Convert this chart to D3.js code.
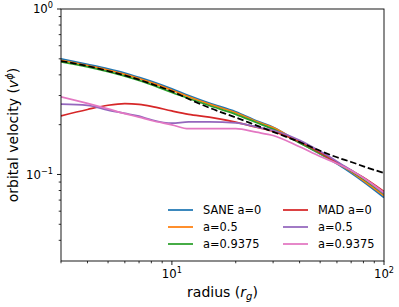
<!DOCTYPE html>
<html>
<head>
<meta charset="utf-8">
<script src="https://cdn.jsdelivr.net/npm/d3@7.9.0/dist/d3.min.js"></script>
<style>
  body { margin: 0; background: #fff; }
  svg { display: block; font-family: "DejaVu Sans", sans-serif; }
</style>
</head>
<body>
<svg id="chart" width="399" height="307"></svg>
<script>
const radius = [3, 4, 5, 6, 7, 8, 10, 12, 15, 20, 25, 30, 40, 50, 60, 70, 80, 100];

const saneA0     = [0.500, 0.463, 0.435, 0.410, 0.386, 0.365, 0.329, 0.300, 0.270, 0.239, 0.211, 0.193, 0.156, 0.133, 0.116, 0.102, 0.0904, 0.0726];
const saneA05    = [0.489, 0.455, 0.428, 0.403, 0.380, 0.359, 0.323, 0.295, 0.266, 0.236, 0.209, 0.192, 0.156, 0.134, 0.117, 0.104, 0.092, 0.0745];
const saneA09375 = [0.479, 0.447, 0.418, 0.393, 0.370, 0.349, 0.313, 0.288, 0.261, 0.231, 0.206, 0.188, 0.155, 0.134, 0.118, 0.105, 0.094, 0.0762];
const madA0      = [0.226, 0.247, 0.262, 0.268, 0.265, 0.258, 0.242, 0.231, 0.222, 0.207, 0.193, 0.182, 0.158, 0.136, 0.118, 0.106, 0.096, 0.0789];
const madA05     = [0.266, 0.262, 0.245, 0.234, 0.225, 0.214, 0.204, 0.208, 0.208, 0.205, 0.194, 0.185, 0.161, 0.138, 0.120, 0.106, 0.0953, 0.0767];
const madA09375  = [0.295, 0.269, 0.249, 0.233, 0.222, 0.212, 0.1995, 0.189, 0.189, 0.189, 0.180, 0.172, 0.147, 0.1285, 0.1166, 0.1057, 0.0953, 0.0778];
const keplerian  = [0.485, 0.452, 0.422, 0.397, 0.374, 0.353, 0.318, 0.286, 0.253, 0.221, 0.198, 0.181, 0.157, 0.139, 0.127, 0.119, 0.112, 0.102];

const labels = ['SANE a=0', 'a=0.5', 'a=0.9375', 'MAD a=0', 'a=0.5', 'a=0.9375'];
const colors = ['#1f77b4', '#ff7f0e', '#2ca02c', '#d62728', '#9467bd', '#e377c2'];
const series = [saneA0, saneA05, saneA09375, madA0, madA05, madA09375];

const xMajor = [10, 100];
const xMinor = [3, 4, 5, 6, 7, 8, 9, 20, 30, 40, 50, 60, 70, 80, 90];
const yMajor = [1, 0.1];
const yMinor = [0.04, 0.05, 0.06, 0.07, 0.08, 0.09, 0.2, 0.3, 0.4, 0.5, 0.6, 0.7, 0.8, 0.9];

const pLeft = 61, pRight = 384, pTop = 9, pBottom = 261;

const svg = d3.select('#chart');
const x = d3.scaleLog().domain([3, 100]).range([pLeft, pRight]);
const y = d3.scaleLog().domain([0.03, 1]).range([pBottom, pTop]);

svg.append('clipPath').attr('id', 'clip')
  .append('rect')
  .attr('x', pLeft).attr('y', pTop)
  .attr('width', pRight - pLeft).attr('height', pBottom - pTop);

const line = d3.line()
  .x((d, i) => x(radius[i]))
  .y(d => y(d))
  .curve(d3.curveMonotoneX);

const plot = svg.append('g').attr('clip-path', 'url(#clip)');

series.forEach((s, i) => {
  plot.append('path')
    .attr('d', line(s))
    .attr('fill', 'none')
    .attr('stroke', colors[i])
    .attr('stroke-width', 1.75);
});

plot.append('path')
  .attr('d', line(keplerian))
  .attr('fill', 'none')
  .attr('stroke', '#000')
  .attr('stroke-width', 1.75)
  .attr('stroke-dasharray', '6.5,2.8');

// ticks
const xAxis = svg.append('g');
xMinor.forEach(t => {
  xAxis.append('line')
    .attr('x1', x(t)).attr('x2', x(t))
    .attr('y1', pBottom).attr('y2', pBottom + 2.3)
    .attr('stroke', '#000').attr('stroke-width', 0.8);
});
xMajor.forEach(t => {
  xAxis.append('line')
    .attr('x1', x(t)).attr('x2', x(t))
    .attr('y1', pBottom).attr('y2', pBottom + 4)
    .attr('stroke', '#000').attr('stroke-width', 0.9);
  let lab = xAxis.append('text')
    .attr('x', x(t)).attr('y', pBottom + 17)
    .attr('text-anchor', 'middle')
    .attr('font-size', 11.7);
  lab.append('tspan').text('10');
  lab.append('tspan').attr('dy', -5).attr('font-size', 8.2).text(String(Math.round(Math.log10(t))));
});

const yAxis = svg.append('g');
yMinor.forEach(t => {
  yAxis.append('line')
    .attr('x1', pLeft - 2.3).attr('x2', pLeft)
    .attr('y1', y(t)).attr('y2', y(t))
    .attr('stroke', '#000').attr('stroke-width', 0.8);
});
yMajor.forEach(t => {
  yAxis.append('line')
    .attr('x1', pLeft - 4).attr('x2', pLeft)
    .attr('y1', y(t)).attr('y2', y(t))
    .attr('stroke', '#000').attr('stroke-width', 0.9);
  let e = Math.round(Math.log10(t));
  let lab = yAxis.append('text')
    .attr('x', pLeft - 8).attr('y', y(t) + 4.2)
    .attr('text-anchor', 'end')
    .attr('font-size', 11.7);
  lab.append('tspan').text('10');
  lab.append('tspan').attr('dy', -5).attr('font-size', 8.2).text(e === 0 ? '0' : '\u22121');
});

// frame
svg.append('rect')
  .attr('x', pLeft).attr('y', pTop)
  .attr('width', pRight - pLeft).attr('height', pBottom - pTop)
  .attr('fill', 'none').attr('stroke', '#000').attr('stroke-width', 0.9);

// axis labels
let xl = svg.append('text')
  .attr('x', (pLeft + pRight) / 2).attr('y', 297)
  .attr('text-anchor', 'middle')
  .attr('font-size', 14);
xl.append('tspan').text('radius (');
xl.append('tspan').attr('font-style', 'italic').text('r');
xl.append('tspan').attr('font-style', 'italic').attr('font-size', 10).attr('dy', 3).text('g');
xl.append('tspan').attr('dy', -3).text(')');

let yl = svg.append('text')
  .attr('transform', `translate(18,${(pTop + pBottom) / 2}) rotate(-90)`)
  .attr('text-anchor', 'middle')
  .attr('font-size', 14);
yl.append('tspan').text('orbital velocity (');
yl.append('tspan').attr('font-style', 'italic').text('v');
yl.append('tspan').attr('font-style', 'italic').attr('font-size', 10).attr('dy', -5).text('\u03d5');
yl.append('tspan').attr('dy', 5).text(')');

// legend, two columns
const legend = svg.append('g');
labels.forEach((lab, i) => {
  let col = Math.floor(i / 3), row = i % 3;
  let lx = col === 0 ? 168 : 283;
  let ly = 210 + row * 17;
  legend.append('line')
    .attr('x1', lx).attr('x2', lx + 25)
    .attr('y1', ly).attr('y2', ly)
    .attr('stroke', colors[i]).attr('stroke-width', 1.75);
  legend.append('text')
    .attr('x', lx + 35).attr('y', ly + 4.2)
    .attr('font-size', 11.4)
    .text(lab);
});
</script>
</body>
</html>
